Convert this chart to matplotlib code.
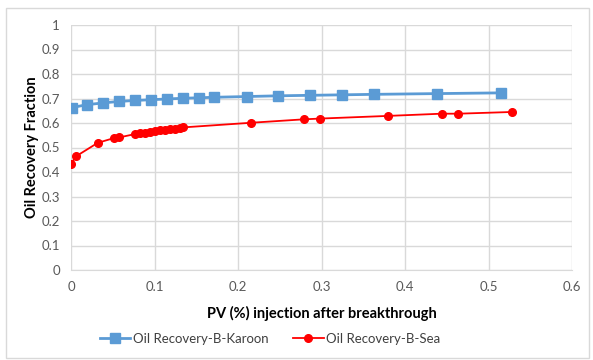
import matplotlib
matplotlib.use("Agg")
import matplotlib.pyplot as plt
from matplotlib.patches import Rectangle

plt.rcParams['font.family'] = ['Lato', 'DejaVu Sans']

karoon_x = [0.001, 0.0195, 0.0387, 0.0575, 0.0766, 0.0955, 0.1146, 0.1345, 0.1537,
            0.1716, 0.2104, 0.2483, 0.2862, 0.325, 0.363, 0.438, 0.515]
karoon_y = [0.663, 0.675, 0.682, 0.688, 0.692, 0.695, 0.698, 0.701, 0.703,
            0.705, 0.708, 0.711, 0.713, 0.715, 0.717, 0.720, 0.723]

sea_x = [0.0, 0.006, 0.032, 0.051, 0.0575, 0.077, 0.083, 0.089, 0.095, 0.101,
         0.107, 0.113, 0.119, 0.125, 0.131, 0.134, 0.2156, 0.279, 0.298, 0.380,
         0.444, 0.464, 0.528]
sea_y = [0.433, 0.464, 0.519, 0.538, 0.541, 0.555, 0.558, 0.561, 0.564, 0.567,
         0.570, 0.572, 0.575, 0.577, 0.580, 0.582, 0.601, 0.615, 0.618, 0.629,
         0.638, 0.638, 0.645]

x_ticks = [0, 0.1, 0.2, 0.3, 0.4, 0.5, 0.6]
x_labels = ['0', '0.1', '0.2', '0.3', '0.4', '0.5', '0.6']
y_ticks = [0, 0.1, 0.2, 0.3, 0.4, 0.5, 0.6, 0.7, 0.8, 0.9, 1.0]
y_labels = ['0', '0.1', '0.2', '0.3', '0.4', '0.5', '0.6', '0.7', '0.8', '0.9', '1']

fig = plt.figure(figsize=(5.93, 3.6), dpi=100)
fig.patches.append(Rectangle((6/593, 2/360), 583/593, 350/360, transform=fig.transFigure,
                             fill=False, edgecolor='#d9d9d9', linewidth=1))
ax = fig.add_axes([71/593, 90/360, 501/593, 245/360])

ax.plot(karoon_x, karoon_y, color='#5b9bd5', marker='s', markersize=6.5, linewidth=2,
        label='Oil Recovery-B-Karoon', zorder=3)
ax.plot(sea_x, sea_y, color='#ff0000', marker='o', markersize=5.5, linewidth=1.3,
        label='Oil Recovery-B-Sea', zorder=3)

ax.set_xlim(0, 0.6)
ax.set_ylim(0, 1)
ax.set_xticks(x_ticks)
ax.set_xticklabels(x_labels)
ax.set_yticks(y_ticks)
ax.set_yticklabels(y_labels)
ax.grid(True, color='#d9d9d9', linewidth=1)
ax.set_axisbelow(True)
for s in ['top', 'right', 'left']:
    ax.spines[s].set_visible(False)
ax.spines['bottom'].set_color('#d9d9d9')
ax.tick_params(length=0, colors='#595959', labelsize=9.5, pad=8)

ax.set_xlabel('PV (%) injection after breakthrough', fontsize=10.5, fontweight='bold',
              color='black', labelpad=9)
ax.set_ylabel('Oil Recovery Fraction', fontsize=10.5, fontweight='bold', color='black',
              labelpad=2)

leg = fig.legend(loc='center', bbox_to_anchor=(270/593, 1 - 339/360), ncol=2, frameon=False,
                 fontsize=9.5, handlelength=2.3, columnspacing=1.9, handletextpad=0.2)
for t in leg.get_texts():
    t.set_color('#404040')

fig.savefig('out.png', dpi=100)
